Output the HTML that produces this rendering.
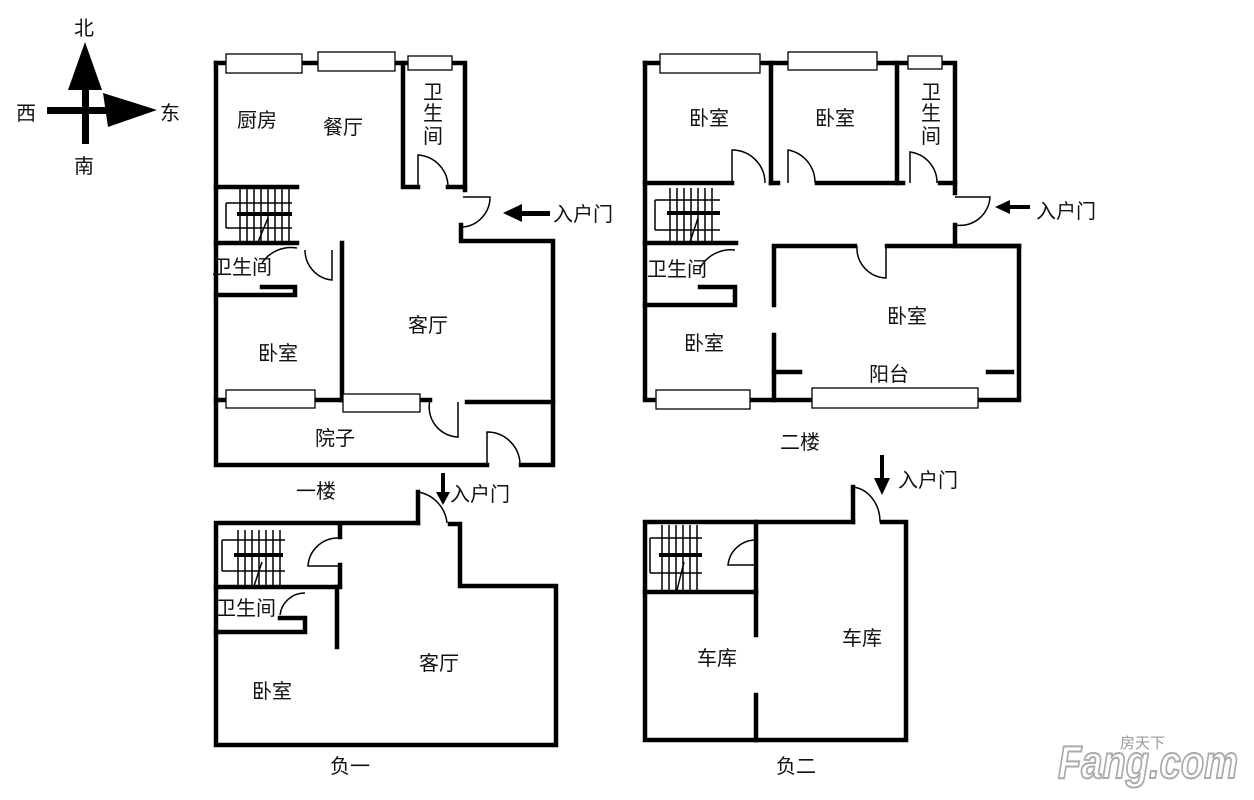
<!DOCTYPE html>
<html><head><meta charset="utf-8"><style>
html,body{margin:0;padding:0;background:#fff;}
svg{display:block;}
text{font-family:"Liberation Sans","Noto Sans CJK SC",sans-serif;fill:#111;font-size:20px;}
.w{stroke:#000;stroke-width:4.5;fill:none;stroke-linecap:square;}
.t{stroke:#000;stroke-width:1.5;fill:none;}
.win{stroke:#000;stroke-width:1.3;fill:#fff;}
</style></head><body>
<svg width="1254" height="800" viewBox="0 0 1254 800" xmlns="http://www.w3.org/2000/svg">
<!-- compass -->
<rect x="82" y="80" width="7" height="64" fill="#000"/>
<polygon points="85,42 102,90 68,90" fill="#000"/>
<rect x="47" y="107" width="60" height="7" fill="#000"/>
<polygon points="157,110 103,93 108,127" fill="#000"/>
<text x="74" y="35">北</text><text x="16" y="120">西</text><text x="160" y="120">东</text><text x="74" y="173">南</text>

<!-- ===== 一楼 ===== -->
<g>
<path class="w" d="M216 63 V465 H487 M521 465 H553 V241 H461 V225"/>
<path class="w" d="M216 63 H465 V190"/>
<path class="w" d="M403 63 V187 H418"/>
<path class="w" d="M448 187 H465"/>
<path class="t" d="M418 187 V155 A32 32 0 0 1 448 187"/>
<path class="t" d="M463 197 H490 A30 30 0 0 1 463 227"/>
<path class="w" d="M216 187 H297"/>
<path class="w" d="M216 243 H297"/>
<path class="w" d="M216 295 H295 V287 H262"/>
<path class="t" d="M262 263 A35 35 0 0 1 297 248"/>
<path class="t" d="M305 250 A30 30 0 0 0 332 280 V250"/>
<path class="w" d="M342 243 V400"/>
<path class="w" d="M216 400 H430"/>
<path class="w" d="M467 402 H553"/>
<path class="t" d="M430 400 A30 30 0 0 0 458 437 V402"/>
<path class="t" d="M487 465 V432 A33 33 0 0 1 520 465"/>
<g class="t">
<path d="M226 203 H292 M226 228 H292 M226 203 V228"/>
<path d="M240 188 V242 M247 188 V242 M254 188 V242 M261 188 V242 M268 188 V242 M275 188 V242 M282 188 V242 M289 188 V242"/>
<path d="M258 242 L268 218"/>
</g>
<rect x="237" y="212" width="55" height="4" fill="#000"/>
<rect class="win" x="226" y="54" width="76" height="19"/>
<rect class="win" x="318" y="52" width="77" height="19"/>
<rect class="win" x="408" y="56" width="44" height="14"/>
<rect class="win" x="226" y="390" width="89" height="18"/>
<rect class="win" x="343" y="394" width="77" height="18"/>
<text x="237" y="127">厨房</text><text x="323" y="134">餐厅</text>
<text x="423" y="99">卫</text><text x="423" y="120">生</text><text x="423" y="143">间</text>
<text x="212" y="274">卫生间</text><text x="258" y="360">卧室</text><text x="408" y="332">客厅</text>
<text x="315" y="445">院子</text>
<polygon points="503,213 522,204 522,222" fill="#000"/><rect x="520" y="211" width="30" height="5" fill="#000"/>
<text x="553" y="221">入户门</text>
<text x="296" y="498">一楼</text>
</g>

<!-- ===== 二楼 ===== -->
<g>
<path class="w" d="M645 63 V400 H1019 V246 H955 V225"/>
<path class="w" d="M645 63 H955 V193"/>
<path class="w" d="M771 63 V183 M897 63 V183"/>
<path class="w" d="M645 183 H732 M771 183 H778 M817 183 H895 M897 183 H903 M940 183 H955"/>
<path class="t" d="M732 183 V150 A33 33 0 0 1 765 183"/>
<path class="t" d="M788 183 V150 A33 33 0 0 1 815 183"/>
<path class="t" d="M910 183 V152 A31 31 0 0 1 937 183"/>
<path class="t" d="M955 197 H990 A30 30 0 0 1 955 225"/>
<path class="w" d="M645 243 H736"/>
<path class="w" d="M645 305 H735 V287 H700"/>
<path class="t" d="M700 268 A35 35 0 0 1 735 250"/>
<path class="w" d="M774 246 H855 M887 246 H1019"/>
<path class="t" d="M857 246 A30 30 0 0 0 886 278 V246"/>
<path class="w" d="M774 248 V305 M774 335 V400"/>
<path class="w" d="M774 372 H800 M988 372 H1012"/>
<g class="t">
<path d="M655 200 H720 M655 230 H720 M655 200 V230"/>
<path d="M670 188 V242 M677 188 V242 M684 188 V242 M691 188 V242 M698 188 V242 M705 188 V242 M712 188 V242"/>
<path d="M690 242 L698 218"/>
</g>
<rect x="667" y="211" width="53" height="4" fill="#000"/>
<rect class="win" x="660" y="54" width="100" height="19"/>
<rect class="win" x="788" y="52" width="89" height="18"/>
<rect class="win" x="908" y="56" width="34" height="13"/>
<rect class="win" x="656" y="390" width="94" height="19"/>
<rect class="win" x="812" y="388" width="166" height="20"/>
<text x="689" y="125">卧室</text><text x="815" y="125">卧室</text>
<text x="921" y="99">卫</text><text x="921" y="120">生</text><text x="921" y="143">间</text>
<text x="647" y="276">卫生间</text><text x="684" y="350">卧室</text><text x="887" y="323">卧室</text>
<text x="869" y="381">阳台</text>
<polygon points="995,207 1010,200 1010,214" fill="#000"/><rect x="1008" y="205" width="22" height="4" fill="#000"/>
<text x="1036" y="218">入户门</text>
<text x="780" y="449">二楼</text>
</g>

<!-- ===== 负一 ===== -->
<g>
<path class="w" d="M418 523 H216 V745 H556 V586 H460 V524 H450"/>
<path class="w" d="M418 523 V492"/>
<path class="t" d="M418 492 A35 35 0 0 1 447 523"/>
<path class="w" d="M340 525 V537 M340 565 V585"/>
<path class="t" d="M338 538 A30 30 0 0 0 308 566 H338"/>
<path class="w" d="M216 587 H340"/>
<path class="w" d="M216 632 H305 V618 H280"/>
<path class="t" d="M280 615 A25 25 0 0 1 305 593"/>
<path class="w" d="M337 587 V647"/>
<g class="t">
<path d="M222 540 H285 M222 571 H285 M222 540 V571"/>
<path d="M238 530 V586 M245 530 V586 M252 530 V586 M259 530 V586 M266 530 V586 M273 530 V586 M280 530 V586"/>
<path d="M254 586 L262 562"/>
</g>
<rect x="234" y="553" width="49" height="4" fill="#000"/>
<text x="216" y="615">卫生间</text><text x="252" y="698">卧室</text><text x="419" y="670">客厅</text>
<rect x="441" y="473" width="4" height="22" fill="#000"/><polygon points="443,505 436,492 450,492" fill="#000"/>
<text x="450" y="501">入户门</text>
<text x="330" y="773">负一</text>
</g>

<!-- ===== 负二 ===== -->
<g>
<path class="w" d="M853 522 H645 V740 H906 V522 H882"/>
<path class="w" d="M853 522 V487"/>
<path class="t" d="M853 487 A30 35 0 0 1 880 522"/>
<path class="w" d="M756 522 V635 M756 695 V740"/>
<path class="w" d="M645 592 H756"/>
<path class="t" d="M756 540 A28 28 0 0 0 728 565 H756"/>
<g class="t">
<path d="M650 538 H702 M650 573 H702 M650 538 V573"/>
<path d="M662 525 V590 M669 525 V590 M676 525 V590 M683 525 V590 M690 525 V590 M697 525 V590"/>
<path d="M677 590 L684 562"/>
</g>
<rect x="659" y="553" width="43" height="4" fill="#000"/>
<text x="697" y="665">车库</text><text x="842" y="645">车库</text>
<rect x="880" y="455" width="4" height="26" fill="#000"/><polygon points="882,495 874,478 890,478" fill="#000"/>
<text x="898" y="487">入户门</text>
<text x="776" y="773">负二</text>
</g>

<!-- watermark -->
<text x="1058" y="778" textLength="180" lengthAdjust="spacingAndGlyphs" style="font-size:46px;font-weight:bold;font-style:italic;fill:#fff;stroke:#aaa;stroke-width:2;">Fang.com</text>
<text x="1120" y="748" style="font-size:15px;fill:#999;">房天下</text>
</svg>
</body></html>
